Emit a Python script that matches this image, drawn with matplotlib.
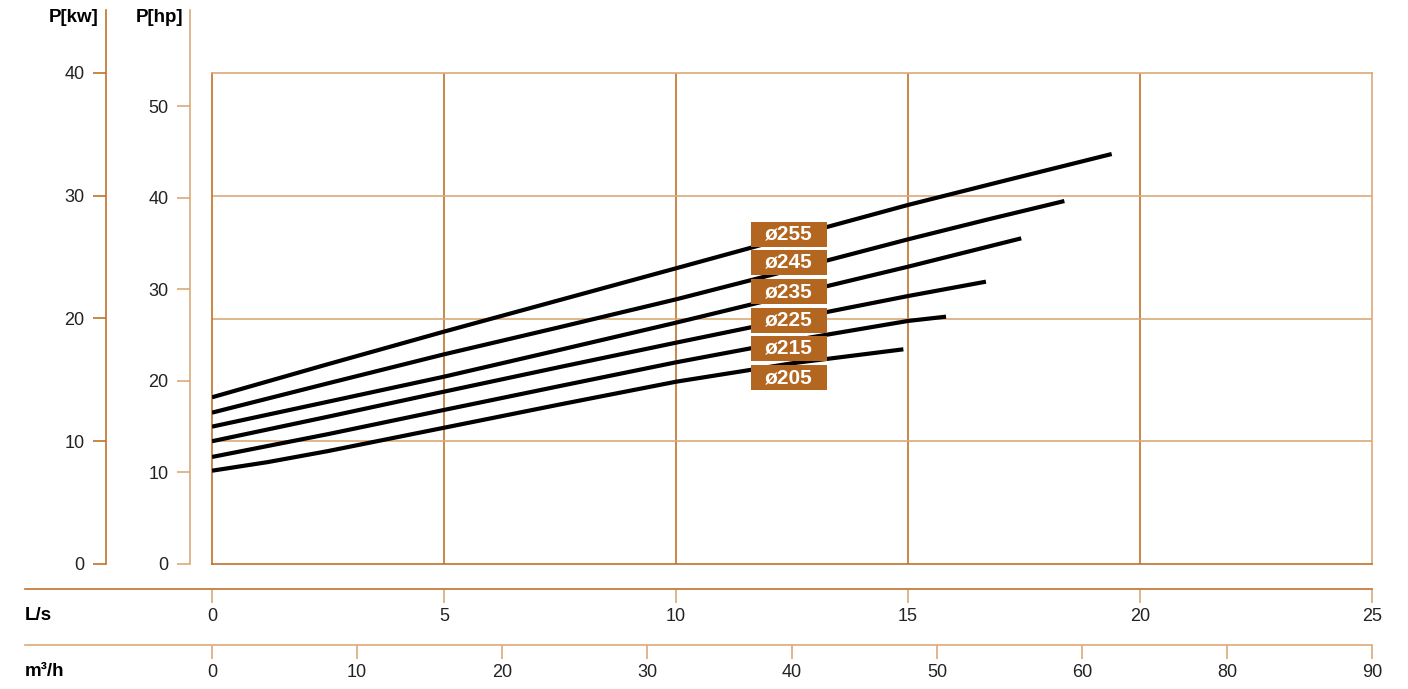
import numpy as np
import matplotlib.pyplot as plt
from matplotlib.patches import Rectangle

plt.rcParams['font.family'] = ['Liberation Sans', 'DejaVu Sans']

# ----------------------------- data -----------------------------
# flow in L/s, power in kW
diameters = ["ø255", "ø245", "ø235", "ø225", "ø215", "ø205"]
flow_255 = [0.0, 2.5, 5.0, 7.5, 10.0, 12.5, 15.0, 17.0, 19.39]
kw_255 = [13.58, 16.28, 18.93, 21.51, 24.09, 26.68, 29.25, 31.15, 33.40]
flow_245 = [0.0, 2.5, 5.0, 7.5, 10.0, 12.5, 15.0, 16.7, 18.37]
kw_245 = [12.33, 14.72, 17.08, 19.30, 21.56, 23.98, 26.45, 28.05, 29.57]
flow_235 = [0.0, 2.5, 5.0, 7.5, 10.0, 12.5, 15.0, 17.44]
kw_235 = [11.19, 13.22, 15.26, 17.45, 19.66, 21.95, 24.22, 26.53]
flow_225 = [0.0, 2.5, 5.0, 7.5, 10.0, 12.5, 15.0, 16.68]
kw_225 = [10.00, 12.00, 14.04, 16.05, 18.03, 19.97, 21.83, 23.00]
flow_215 = [0.0, 2.5, 5.0, 7.5, 10.0, 12.5, 15.0, 15.82]
kw_215 = [8.72, 10.58, 12.55, 14.50, 16.43, 18.20, 19.80, 20.15]
flow_205 = [0.0, 1.2, 2.5, 5.0, 7.5, 10.0, 12.5, 14.90]
kw_205 = [7.60, 8.30, 9.20, 11.10, 13.00, 14.85, 16.35, 17.49]

ls_ticks = [0, 5, 10, 15, 20, 25]
m3h_labels = ["0", "10", "20", "30", "40", "50", "60", "80", "90"]
kw_ticks = [0, 10, 20, 30, 40]
hp_ticks = [0, 10, 20, 30, 40, 50]
KW_PER_HP = 0.7457

# ----------------------------- layout (pixels) -----------------------------
W, H = 1408, 689
X0, X1 = 212, 1372        # plot area
Y0, Y1 = 564, 73          # kW 0 / kW 40
YTOP = 10                 # top of left axis lines
XL = 25                   # left end of bottom axis lines

DARK = "#c0722a"
LIGHT = "#dca97a"
BOX = "#b3661f"

def fx(px):
    return px / W

def fy(py):
    return 1 - py / H

fig = plt.figure(figsize=(W / 100, H / 100), dpi=100)

# ----------------------------- main area -----------------------------
ax = fig.add_axes([fx(X0), fy(Y0), fx(X1 - X0), fy(Y1) - fy(Y0)])
ax.set_xlim(0, 25)
ax.set_ylim(0, 40)
ax.set_xticks([])
ax.set_yticks([])
for x in [5, 10, 15, 20]:
    ax.axvline(x, color=DARK, lw=1.2, zorder=1)
for y in [10, 20, 30]:
    ax.axhline(y, color=LIGHT, lw=1.2, zorder=1)
ax.spines['left'].set_color(DARK)
ax.spines['bottom'].set_color(DARK)
ax.spines['top'].set_color(LIGHT)
ax.spines['right'].set_color(LIGHT)
for s in ax.spines.values():
    s.set_linewidth(1.2)

curves = [(flow_255, kw_255), (flow_245, kw_245), (flow_235, kw_235),
          (flow_225, kw_225), (flow_215, kw_215), (flow_205, kw_205)]
for fl, kw in curves:
    ax.plot(fl, kw, color="black", lw=3.0, solid_capstyle='butt',
            solid_joinstyle='round', zorder=3)

# diameter labels
box_cx = (789 - X0) / (X1 - X0) * 25
box_w = 76 / (X1 - X0) * 25
box_h = 25 / (Y0 - Y1) * 40
box_cy = [234.5, 262.5, 291.5, 320, 348.5, 377.5]
for name, cy in zip(diameters, box_cy):
    yk = (Y0 - cy) / (Y0 - Y1) * 40
    ax.add_patch(Rectangle((box_cx - box_w / 2, yk - box_h / 2), box_w, box_h,
                           facecolor=BOX, edgecolor="none", zorder=4))
    ax.text(box_cx, yk, name, color="white", fontsize=15, fontweight="bold",
            ha="center", va="center", zorder=5)

# ----------------------------- left axes -----------------------------
kw_top = 40 * (Y0 - YTOP) / (Y0 - Y1)

def vaxis(xpix, top, ticks, color):
    a = fig.add_axes([fx(xpix), fy(Y0), 0.0001, fy(YTOP) - fy(Y0)])
    a.set_ylim(0, top)
    a.set_xticks([])
    for k in ['right', 'top', 'bottom']:
        a.spines[k].set_visible(False)
    a.spines['left'].set_color(color)
    a.spines['left'].set_linewidth(1.2)
    a.set_yticks(ticks)
    a.tick_params(axis='y', direction='out', length=9.5, width=1.2, color=color,
                  pad=6, labelsize=13, labelcolor="#222222")
    a.patch.set_visible(False)
    return a

vaxis(106, kw_top, kw_ticks, DARK)
vaxis(190, kw_top / KW_PER_HP, hp_ticks, LIGHT)
fig.text(fx(99), fy(18), "P[kw]", ha="right", va="center", fontsize=13.5, fontweight="bold")
fig.text(fx(183), fy(18), "P[hp]", ha="right", va="center", fontsize=13.5, fontweight="bold")

# ----------------------------- bottom axes -----------------------------
def haxis(ypix, xmax, ticks, labels, color):
    a = fig.add_axes([fx(XL), fy(ypix), fx(X1 - XL), 0.0001])
    a.set_xlim(-xmax * (X0 - XL) / (X1 - X0), xmax)
    a.set_yticks([])
    for k in ['left', 'right', 'top']:
        a.spines[k].set_visible(False)
    a.spines['bottom'].set_color(color)
    a.spines['bottom'].set_linewidth(1.2)
    a.set_xticks(ticks)
    a.set_xticklabels(labels)
    a.tick_params(axis='x', direction='out', length=10, width=1.2, color=LIGHT,
                  pad=4, labelsize=13, labelcolor="#222222")
    a.patch.set_visible(False)
    return a

haxis(589, 25, ls_ticks, [str(t) for t in ls_ticks], DARK)
haxis(645, 90, np.linspace(0, 90, len(m3h_labels)), m3h_labels, LIGHT)
fig.text(fx(XL), fy(616), "L/s", ha="left", va="center", fontsize=13.5, fontweight="bold")
fig.text(fx(XL), fy(672), "m³/h", ha="left", va="center", fontsize=13.5, fontweight="bold")

fig.savefig("out.png", dpi=100)
